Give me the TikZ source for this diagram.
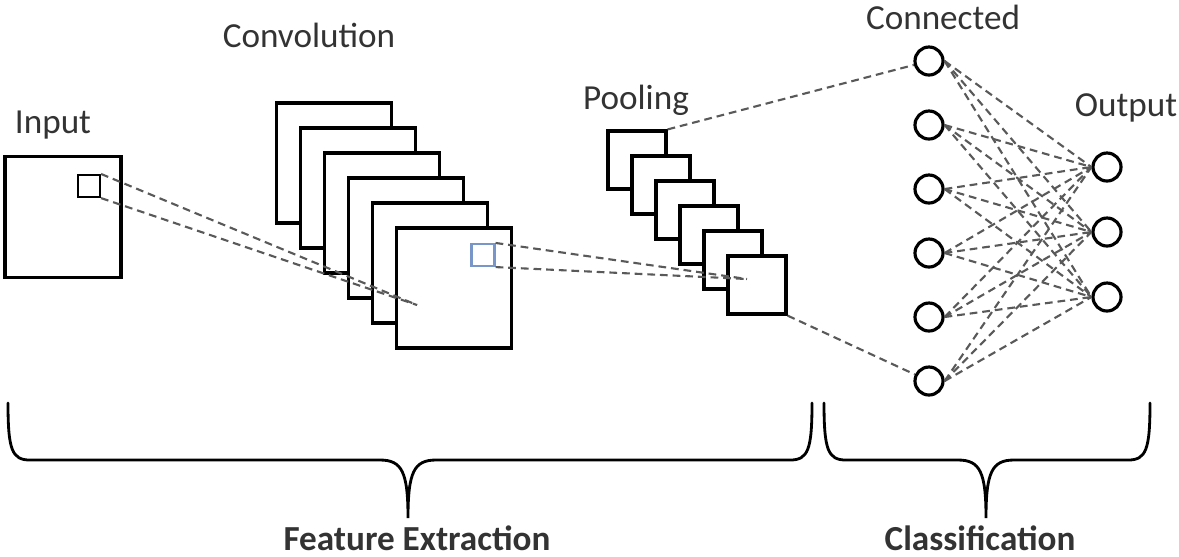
\documentclass[tikz,border=0pt]{standalone}
\usepackage{fontspec}
\setmainfont{Carlito}
\usepackage{tikz}
\definecolor{winblue}{RGB}{120,150,200}
\tikzset{
    x=0.01cm, y=-0.01cm,
    fmap/.style = {rectangle, draw, fill=white, line width=0.9pt, inner sep=0pt, minimum width=1.15cm, minimum height=1.2cm},
    pmap/.style = {rectangle, draw, fill=white, line width=0.9pt, inner sep=0pt, minimum size=0.58cm},
    win/.style = {rectangle, draw, line width=0.6pt, inner sep=0pt, minimum size=0.22cm},
    unit/.style = {circle, draw, line width=0.9pt, inner sep=0pt, minimum size=0.28cm},
    link/.style = {black!65, line width=0.6pt, dash pattern=on 2.2pt off 1.4pt},
    lbl/.style = {text=black!80, inner sep=0pt, font=\fontsize{10}{12}\selectfont},
    brc/.style = {line width=0.8pt, line cap=round}
}

\begin{document}
\begin{tikzpicture}
	\useasboundingbox (0,0) rectangle (1179,556);
	% input image
	\node[lbl] (inlbl) at (53,125) {Input};
	\node[fmap, minimum width=1.16cm, minimum height=1.21cm] (in) at (63,217) {};
	\node[win] (inwin) at (89,186) {};
	% convolution maps
	\node[lbl] (convlbl) at (309,35) {Convolution};
	\foreach \i in {1,...,6}
		\node[fmap] (c\i) at ({334+24*(\i-1)},{163+25*(\i-1)}) {};
	\node[win, draw=winblue, minimum width=0.23cm] (convwin) at (483,255) {};
	\coordinate (convpt) at (417,305);
	% pooling maps
	\node[lbl] (poollbl) at (636,100) {Pooling};
	\foreach \i in {1,...,6}
		\node[pmap] (p\i) at ({637+24*(\i-1)},{160+25*(\i-1)}) {};
	\coordinate (poolpt) at (747,279);
	% fully connected part
	\node[lbl] (fclbl) at (943,17) {Connected};
	\foreach \i in {1,...,6}
		\node[unit] (fc\i) at (929,{61+64*(\i-1)}) {};
	\node[lbl] (outlbl) at (1126,108) {Output};
	\foreach \j in {1,2,3}
		\node[unit] (out\j) at (1107,{167+65*(\j-1)}) {};

	\draw[link] (inwin.north east) -- (convpt);
	\draw[link] (inwin.south east) -- (convpt);
	\draw[link] (convwin.north east) -- (poolpt);
	\draw[link] (convwin.south east) -- (poolpt);
	\draw[link] (p1.north east) -- (fc1);
	\draw[link] (p6.south east) -- (fc6);
	\foreach \i in {1,...,6}
		\foreach \j in {1,2,3}
			\draw[link] (fc\i.east) -- (out\j.west);

	% braces
	\draw[brc] (8,403) .. controls (8,450) and (12,460) .. (30,460) -- (380,460)
		.. controls (402,460) and (408,472) .. (408,518)
		.. controls (408,472) and (414,460) .. (436,460) -- (790,460)
		.. controls (808,460) and (812,450) .. (812,403);
	\draw[brc] (824,403) .. controls (824,450) and (828,460) .. (846,460) -- (958,460)
		.. controls (980,460) and (986,472) .. (986,518)
		.. controls (986,472) and (992,460) .. (1014,460) -- (1128,460)
		.. controls (1146,460) and (1150,450) .. (1150,403);
	\node[lbl, font=\fontsize{10}{12}\selectfont\bfseries] (felbl) at (417,538) {Feature Extraction};
	\node[lbl, font=\fontsize{10}{12}\selectfont\bfseries] (clslbl) at (980,538) {Classification};
\end{tikzpicture}
\end{document}
